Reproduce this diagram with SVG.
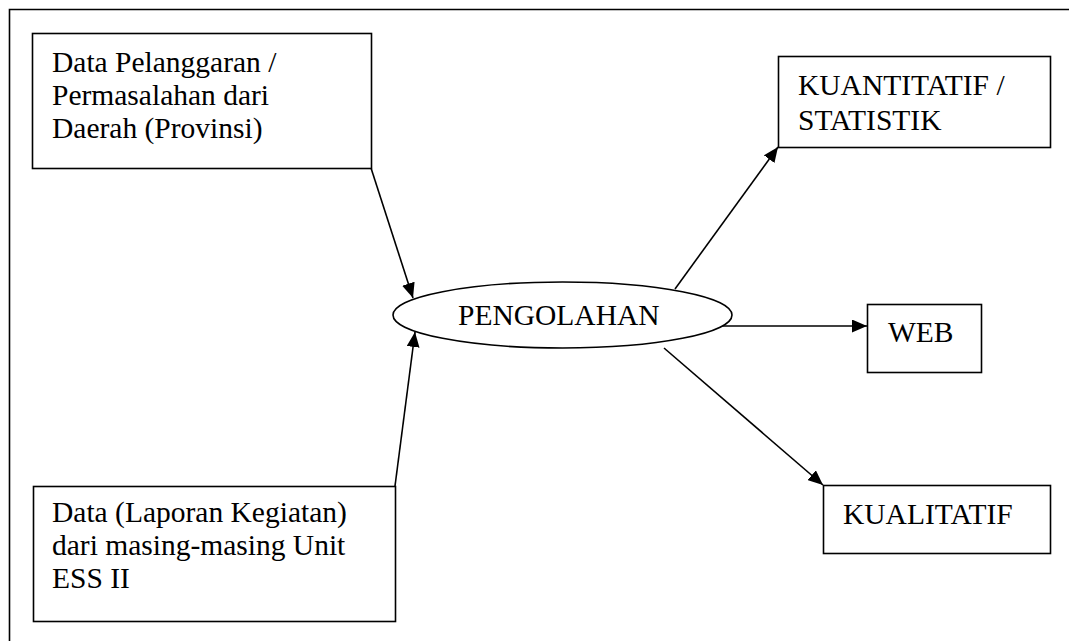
<svg xmlns="http://www.w3.org/2000/svg" width="1069" height="641" viewBox="0 0 1069 641">
<style>
.box{fill:#fff;stroke:#000;stroke-width:1.6}
.t{font-family:"Liberation Serif","Times New Roman",serif;font-size:29.5px;fill:#000}
.c{stroke:#000;stroke-width:1.6;fill:none;marker-end:url(#ah)}
</style>
<defs>
<marker id="ah" markerUnits="userSpaceOnUse" markerWidth="15" markerHeight="13" refX="15" refY="6.5" orient="auto">
<path d="M0,0 L15,6.5 L0,13 Z" fill="#000"/>
</marker>
</defs>
<rect width="1069" height="641" fill="#fff"/>
<path d="M9.5,641 V9.5 H1069" fill="none" stroke="#000" stroke-width="1.6"/>
<g id="connectors">
<line class="c" x1="371" y1="168" x2="413" y2="298"/>
<line class="c" x1="395" y1="486" x2="415" y2="332"/>
<line class="c" x1="675" y1="289" x2="778" y2="147"/>
<line class="c" x1="722" y1="326" x2="867" y2="326"/>
<line class="c" x1="664" y1="348" x2="823" y2="485"/>
</g>
<g id="n1">
<rect class="box" x="32.5" y="33.5" width="339" height="135"/>
<text class="t" x="52" y="72">Data Pelanggaran /</text>
<text class="t" x="52" y="105">Permasalahan dari</text>
<text class="t" x="52" y="138">Daerah (Provinsi)</text>
</g>
<g id="n2">
<rect class="box" x="33.5" y="486.5" width="362" height="135"/>
<text class="t" x="52" y="522">Data (Laporan Kegiatan)</text>
<text class="t" x="52" y="555">dari masing-masing Unit</text>
<text class="t" x="52" y="588">ESS II</text>
</g>
<g id="pengolahan">
<ellipse class="box" cx="562.5" cy="315" rx="169.5" ry="33"/>
<text class="t" x="458" y="325">PENGOLAHAN</text>
</g>
<g id="kuantitatif">
<rect class="box" x="778.5" y="56.5" width="272" height="91"/>
<text class="t" x="798" y="95">KUANTITATIF /</text>
<text class="t" x="798" y="130">STATISTIK</text>
</g>
<g id="web">
<rect class="box" x="867.5" y="304.5" width="114" height="68"/>
<text class="t" x="888" y="342">WEB</text>
</g>
<g id="kualitatif">
<rect class="box" x="823.5" y="485.5" width="227" height="68"/>
<text class="t" x="843" y="524">KUALITATIF</text>
</g>
</svg>
